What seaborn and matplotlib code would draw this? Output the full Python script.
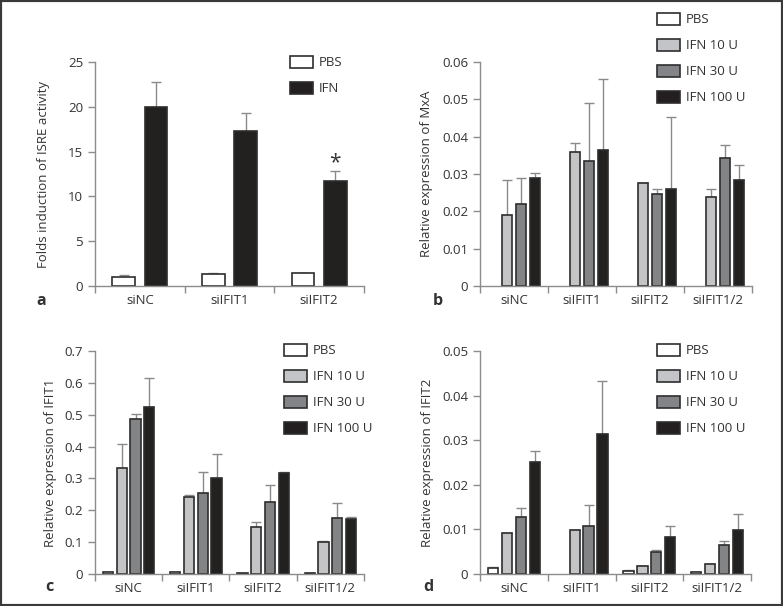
import numpy as np
import pandas as pd
import seaborn as sns
import matplotlib.pyplot as plt
from matplotlib.patches import Patch, Rectangle

# categories
groups_a = ["siNC", "siIFIT1", "siIFIT2"]
groups_bcd = ["siNC", "siIFIT1", "siIFIT2", "siIFIT1/2"]
treat_a = ["PBS", "IFN"]
treat_bcd = ["PBS", "IFN 10 U", "IFN 30 U", "IFN 100 U"]

# a: folds induction of ISRE activity (mean, upper error)
isre_pbs = [1.04, 1.30, 1.49]
isre_pbs_err = [0.15, 0.19, 0.0]
isre_ifn = [20.0, 17.26, 11.76]
isre_ifn_err = [2.8, 2.05, 1.05]

# b: relative expression of MxA
mxa_pbs = [0, 0, 0, 0]
mxa_pbs_err = [0, 0, 0, 0]
mxa_10 = [0.0189, 0.0360, 0.0276, 0.0238]
mxa_10_err = [0.0094, 0.0022, 0.0, 0.0022]
mxa_30 = [0.0220, 0.0334, 0.0246, 0.0342]
mxa_30_err = [0.0069, 0.0157, 0.0013, 0.0037]
mxa_100 = [0.0288, 0.0364, 0.0261, 0.0283]
mxa_100_err = [0.0016, 0.0190, 0.0191, 0.0042]

# c: relative expression of IFIT1
ifit1_pbs = [0.006, 0.006, 0.003, 0.003]
ifit1_pbs_err = [0.001, 0.001, 0.0, 0.0]
ifit1_10 = [0.333, 0.241, 0.147, 0.101]
ifit1_10_err = [0.075, 0.006, 0.016, 0.002]
ifit1_30 = [0.488, 0.253, 0.225, 0.176]
ifit1_30_err = [0.014, 0.066, 0.053, 0.048]
ifit1_100 = [0.524, 0.301, 0.317, 0.173]
ifit1_100_err = [0.090, 0.076, 0.003, 0.005]

# d: relative expression of IFIT2
ifit2_pbs = [0.0014, 0.0, 0.0007, 0.0005]
ifit2_pbs_err = [0.0001, 0.0, 0.0001, 0.0]
ifit2_10 = [0.0092, 0.0099, 0.0017, 0.0022]
ifit2_10_err = [0.0001, 0.0, 0.0, 0.0]
ifit2_30 = [0.0128, 0.0108, 0.0049, 0.0066]
ifit2_30_err = [0.0019, 0.0046, 0.0005, 0.0009]
ifit2_100 = [0.0251, 0.0314, 0.0082, 0.0098]
ifit2_100_err = [0.0024, 0.0119, 0.0025, 0.0036]

# axis ticks
yticks_a = [0, 5, 10, 15, 20, 25]
yticks_b = [0, 0.01, 0.02, 0.03, 0.04, 0.05, 0.06]
yticks_c = [0, 0.1, 0.2, 0.3, 0.4, 0.5, 0.6, 0.7]
yticks_d = [0, 0.01, 0.02, 0.03, 0.04, 0.05]

colors_a = ["#ffffff", "#231f20"]
colors_bcd = ["#ffffff", "#c3c4c8", "#828487", "#231f20"]

EDGE = "#2e2e2e"
AXC = "#8c8c8c"
TXT = "#333333"
FS = 9.5

sns.set_style("white")
plt.rcParams["font.family"] = ["Open Sans", "DejaVu Sans"]
plt.rcParams["text.color"] = TXT

fig = plt.figure(figsize=(7.83, 6.06), dpi=100)
W, H = 783, 606


def px_axes(left, top, right, bottom):
    return fig.add_axes([left / W, 1 - bottom / H, (right - left) / W, (bottom - top) / H])


def panel(ax, groups, treats, vals, errs, colors, yticks, ylabel, lab_x, leg_xy):
    rows = []
    for t, v in zip(treats, vals):
        for g, y in zip(groups, v):
            rows.append({"group": g, "treat": t, "value": y})
    df = pd.DataFrame(rows)
    n = len(treats)
    sns.barplot(data=df, x="group", y="value", hue="treat", order=groups,
                hue_order=treats, palette=colors, edgecolor=EDGE, linewidth=1.2,
                width=0.72 if n == 2 else 0.82, gap=0.29 if n == 2 else 0.26,
                errorbar=None, legend=False, ax=ax, zorder=2)
    # upward-only error bars, nothing drawn for empty bars
    for cont, err in zip(ax.containers, errs):
        for b in cont:
            if b.get_height() == 0:
                b.set_visible(False)
        keep = [i for i, b in enumerate(cont) if b.get_height() > 0]
        xs = [cont[i].get_x() + cont[i].get_width() / 2 for i in keep]
        ys = [cont[i].get_height() for i in keep]
        up = [err[i] for i in keep]
        ax.errorbar(xs, ys, yerr=[np.zeros(len(up)), up], fmt="none",
                    ecolor="#8a8a8a", elinewidth=1.0, capsize=3.4, capthick=1.0,
                    zorder=1)
    ax.set_ylim(0, yticks[-1])
    ax.set_xlim(-0.5, len(groups) - 0.5)
    ax.set_yticks(yticks)
    ax.set_yticklabels([f"{t:g}" for t in yticks])
    ax.set_xticks(range(len(groups)))
    ax.set_xticklabels(groups)
    ax.set_xticks(np.arange(-0.5, len(groups)), minor=True)
    ax.set_xlabel("")
    ax.set_ylabel(ylabel, fontsize=FS, color=TXT)
    ax.yaxis.set_label_coords(lab_x, 0.5)
    sns.despine(ax=ax)
    for s in ["left", "bottom"]:
        ax.spines[s].set_color(AXC)
        ax.spines[s].set_linewidth(1.0)
    ax.tick_params(axis="y", direction="out", length=5, width=1, color=AXC,
                   labelsize=FS, labelcolor=TXT, pad=3.5, left=True)
    ax.tick_params(axis="x", which="major", length=0, labelsize=FS,
                   labelcolor=TXT, pad=6)
    ax.tick_params(axis="x", which="minor", direction="out", length=5,
                   width=1, color=AXC, bottom=True)
    handles = [Patch(facecolor=c, edgecolor=EDGE, linewidth=1.2, label=t)
               for c, t in zip(colors, treats)]
    ax.legend(handles=handles, loc="upper left", bbox_to_anchor=leg_xy,
              bbox_transform=fig.transFigure, frameon=False, fontsize=FS,
              handlelength=1.75, handleheight=1.0, labelspacing=0.95,
              handletextpad=0.45, borderpad=0, borderaxespad=0)


ax_a = px_axes(95, 62, 364, 286)
panel(ax_a, groups_a, treat_a, [isre_pbs, isre_ifn], [isre_pbs_err, isre_ifn_err],
      colors_a, yticks_a, "Folds induction of ISRE activity", -0.167,
      (290 / W, 1 - 56 / H))
# significance mark over siIFIT2 IFN
bar = ax_a.containers[1][2]
ax_a.text(bar.get_x() + bar.get_width() / 2, isre_ifn[2] + isre_ifn_err[2] + 0.9,
          "*", ha="center", va="center", fontsize=15, color=TXT)

ax_b = px_axes(480, 62, 752, 286)
panel(ax_b, groups_bcd, treat_bcd, [mxa_pbs, mxa_10, mxa_30, mxa_100],
      [mxa_pbs_err, mxa_10_err, mxa_30_err, mxa_100_err], colors_bcd, yticks_b,
      "Relative expression of MxA", -0.173, (657 / W, 1 - 13 / H))

ax_c = px_axes(95, 351, 364, 574)
panel(ax_c, groups_bcd, treat_bcd, [ifit1_pbs, ifit1_10, ifit1_30, ifit1_100],
      [ifit1_pbs_err, ifit1_10_err, ifit1_30_err, ifit1_100_err], colors_bcd,
      yticks_c, "Relative expression of IFIT1", -0.141, (284 / W, 1 - 344 / H))

ax_d = px_axes(480, 351, 751, 574)
panel(ax_d, groups_bcd, treat_bcd, [ifit2_pbs, ifit2_10, ifit2_30, ifit2_100],
      [ifit2_pbs_err, ifit2_10_err, ifit2_30_err, ifit2_100_err], colors_bcd,
      yticks_d, "Relative expression of IFIT2", -0.170, (657 / W, 1 - 344 / H))

# panel letters
for letter, x, y in [("a", 36, 301), ("b", 433, 301), ("c", 45, 587), ("d", 423, 587)]:
    fig.text(x / W, 1 - y / H, letter, fontsize=11.5, fontweight="bold",
             color=TXT, ha="left", va="center")

# outer frame
fig.patches.append(Rectangle((0, 0), 1, 1, transform=fig.transFigure, fill=False,
                             edgecolor="#3a3a3a", linewidth=3))

plt.savefig("out.png", dpi=100)
